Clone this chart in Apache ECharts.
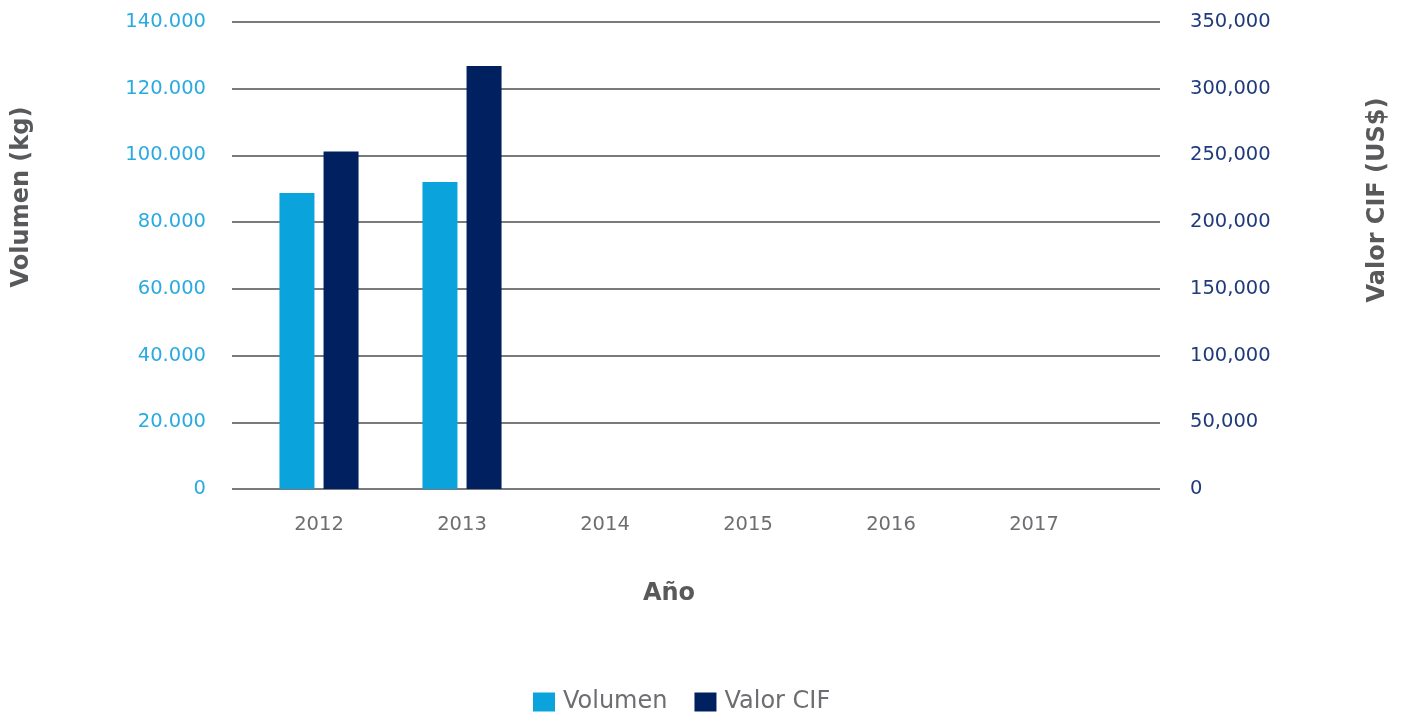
<!DOCTYPE html>
<html>
<head>
<meta charset="utf-8">
<style>
  html, body { margin: 0; padding: 0; background: #ffffff; }
  #chart { width: 1403px; height: 717px; }
</style>
<script src="https://cdn.jsdelivr.net/npm/echarts@6/dist/echarts.min.js"></script>
</head>
<body>
<div id="chart"></div>
<script>
// Años y valores de importación
const years = ['2012', '2013', '2014', '2015', '2016', '2017'];
const volumenKg = [88700, 92000, null, null, null, null];
const valorCifUsd = [253000, 317000, null, null, null, null];

const volumenTicks = { min: 0, max: 140000, interval: 20000 };
const valorTicks = { min: 0, max: 350000, interval: 50000 };

const FONT = '"DejaVu Sans", Verdana, sans-serif';
const GRAY_TEXT = '#6d6e71';
const TITLE_GRAY = '#58595b';
const LIGHT_BLUE = '#0ba3dc';
const DARK_BLUE = '#00205f';
const GRID_LINE = '#7a7a7e';

const fmtDot = v => String(v).replace(/\B(?=(\d{3})+(?!\d))/g, '.');
const fmtComma = v => String(v).replace(/\B(?=(\d{3})+(?!\d))/g, ',');

const chart = echarts.init(document.getElementById('chart'), null, { renderer: 'canvas' });

chart.setOption({
  animation: false,
  textStyle: { fontFamily: FONT },
  grid: [
    // gridlines and value axes
    { left: 232, right: 243, top: 22, bottom: 228 },
    // bars and year axis
    { left: 247.5, width: 858, top: 22, bottom: 228 }
  ],
  legend: {
    top: 690,
    left: 533,
    padding: 0,
    icon: 'rect',
    itemWidth: 22,
    itemHeight: 19,
    itemGap: 27,
    textStyle: { fontSize: 24, color: GRAY_TEXT, fontFamily: FONT, padding: [0, 0, 0, 3] },
    data: ['Volumen', 'Valor CIF']
  },
  xAxis: [
    {
      gridIndex: 0, type: 'category', data: years, show: false
    },
    {
      gridIndex: 1, type: 'category', data: years,
      axisLine: { show: false },
      axisTick: { show: false },
      axisLabel: { color: GRAY_TEXT, fontSize: 19.5, margin: 26, fontFamily: FONT }
    }
  ],
  yAxis: [
    {
      gridIndex: 0, type: 'value', position: 'left',
      min: volumenTicks.min, max: volumenTicks.max, interval: volumenTicks.interval,
      axisLine: { show: false }, axisTick: { show: false },
      axisLabel: { color: '#29aae1', fontSize: 19.5, margin: 26, fontFamily: FONT, formatter: fmtDot },
      splitLine: { show: true, lineStyle: { color: GRID_LINE, width: 2 } }
    },
    {
      gridIndex: 0, type: 'value', position: 'right',
      min: valorTicks.min, max: valorTicks.max, interval: valorTicks.interval,
      axisLine: { show: false }, axisTick: { show: false },
      axisLabel: { color: '#1f3b7c', fontSize: 19.5, margin: 30, fontFamily: FONT, formatter: fmtComma },
      splitLine: { show: false }
    },
    {
      gridIndex: 1, type: 'value',
      min: volumenTicks.min, max: volumenTicks.max, interval: volumenTicks.interval,
      show: false, splitLine: { show: false }
    },
    {
      gridIndex: 1, type: 'value',
      min: valorTicks.min, max: valorTicks.max, interval: valorTicks.interval,
      show: false, splitLine: { show: false }
    }
  ],
  series: [
    {
      name: 'Volumen', type: 'bar', xAxisIndex: 1, yAxisIndex: 2,
      data: volumenKg, barWidth: 35, barGap: '26%',
      itemStyle: { color: LIGHT_BLUE }
    },
    {
      name: 'Valor CIF', type: 'bar', xAxisIndex: 1, yAxisIndex: 3,
      data: valorCifUsd, barWidth: 35, barGap: '26%',
      itemStyle: { color: DARK_BLUE }
    }
  ],
  graphic: [
    {
      type: 'text', x: 22, y: 197, rotation: Math.PI / 2,
      style: {
        text: 'Volumen (kg)', fill: TITLE_GRAY, font: 'bold 24px ' + FONT,
        textAlign: 'center', textVerticalAlign: 'middle'
      }
    },
    {
      type: 'text', x: 1378, y: 200, rotation: Math.PI / 2,
      style: {
        text: 'Valor CIF (US$)', fill: TITLE_GRAY, font: 'bold 24px ' + FONT,
        textAlign: 'center', textVerticalAlign: 'middle'
      }
    },
    {
      type: 'text', x: 669, y: 594,
      style: {
        text: 'Año', fill: TITLE_GRAY, font: 'bold 24px ' + FONT,
        textAlign: 'center', textVerticalAlign: 'middle'
      }
    }
  ]
});
</script>
</body>
</html>
